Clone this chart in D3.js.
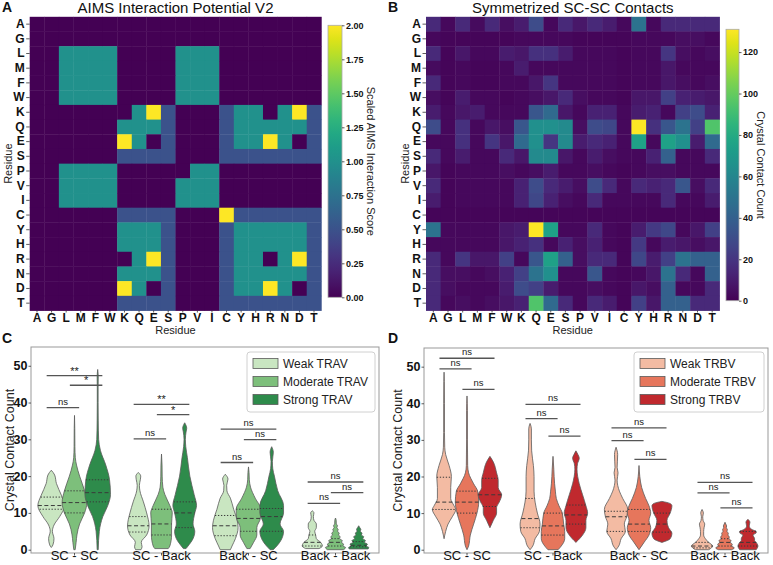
<!DOCTYPE html>
<html><head><meta charset="utf-8">
<script src="https://cdn.jsdelivr.net/npm/d3@7"></script>
<style>
body{margin:0;background:#fff}
svg{font-family:"Liberation Sans",Arial,Helvetica,sans-serif}
</style></head>
<body>
<script>
// ---------------- DATA ----------------
const residues = ["A","G","L","M","F","W","K","Q","E","S","P","V","I","C","Y","H","R","N","D","T"];

const aimsScores = [
 [0,0,0,0,0,0,0,0,0,0,0,0,0,0,0,0,0,0,0,0],
 [0,0,0,0,0,0,0,0,0,0,0,0,0,0,0,0,0,0,0,0],
 [0,0,1,1,1,1,0,0,0,0,1,1,1,0,0,0,0,0,0,0],
 [0,0,1,1,1,1,0,0,0,0,1,1,1,0,0,0,0,0,0,0],
 [0,0,1,1,1,1,0,0,0,0,1,1,1,0,0,0,0,0,0,0],
 [0,0,1,1,1,1,0,0,0,0,1,1,1,0,0,0,0,0,0,0],
 [0,0,0,0,0,0,0,1,2,.5,0,0,0,.5,1,1,0,1,2,.5],
 [0,0,0,0,0,0,1,1,1,.5,0,0,0,.5,1,1,1,1,1,.5],
 [0,0,0,0,0,0,2,1,0,.5,0,0,0,.5,1,1,2,1,0,.5],
 [0,0,0,0,0,0,.5,.5,.5,.5,0,0,0,.5,.5,.5,.5,.5,.5,.5],
 [0,0,1,1,1,1,0,0,0,0,0,1,1,0,0,0,0,0,0,0],
 [0,0,1,1,1,1,0,0,0,0,1,1,1,0,0,0,0,0,0,0],
 [0,0,1,1,1,1,0,0,0,0,1,1,1,0,0,0,0,0,0,0],
 [0,0,0,0,0,0,.5,.5,.5,.5,0,0,0,2,.5,.5,.5,.5,.5,.5],
 [0,0,0,0,0,0,1,1,1,.5,0,0,0,.5,1,1,1,1,1,.5],
 [0,0,0,0,0,0,1,1,1,.5,0,0,0,.5,1,1,1,1,1,.5],
 [0,0,0,0,0,0,0,1,2,.5,0,0,0,.5,1,1,0,1,2,.5],
 [0,0,0,0,0,0,1,1,1,.5,0,0,0,.5,1,1,1,1,1,.5],
 [0,0,0,0,0,0,2,1,0,.5,0,0,0,.5,1,1,2,1,0,.5],
 [0,0,0,0,0,0,.5,.5,.5,.5,0,0,0,.5,.5,.5,.5,.5,.5,.5]
];
const aimsTicks = [0,0.25,0.5,0.75,1,1.25,1.5,1.75,2];

const contactCounts = [
 [15,3,15,4,15,5,10,30,3,15,8,15,10,3,50,3,15,15,15,15],
 [3,2,2,2,2,2,3,3,3,3,2,2,2,2,3,3,3,5,5,3],
 [15,2,8,3,3,10,8,18,18,10,3,3,3,2,3,3,20,5,3,5],
 [4,2,3,2,2,3,10,3,3,3,3,3,3,2,3,3,8,3,3,3],
 [15,2,3,2,2,3,3,8,20,3,3,3,3,2,3,3,8,5,3,5],
 [5,2,10,3,3,2,3,5,8,15,5,3,3,2,8,8,25,12,10,8],
 [10,3,8,10,3,3,3,35,45,8,3,12,12,3,10,12,3,25,30,12],
 [30,3,18,3,8,5,35,65,65,62,5,30,28,3,131,18,35,50,25,95],
 [3,3,18,3,20,8,45,65,20,62,10,15,12,3,75,3,75,65,10,45],
 [15,3,10,3,3,15,8,62,62,8,3,10,5,3,3,12,40,3,3,15],
 [8,2,3,3,3,5,3,5,10,3,3,5,3,2,3,5,5,3,3,3],
 [15,2,3,3,3,3,12,30,15,10,5,30,15,3,15,12,15,35,5,15],
 [10,2,3,3,3,3,12,28,12,5,3,15,3,3,3,3,15,3,3,10],
 [2,2,2,2,2,2,2,2,2,2,2,2,2,2,2,2,2,2,2,2],
 [50,3,3,3,3,8,10,131,75,3,3,15,3,2,10,22,28,3,8,25],
 [3,3,3,3,3,8,12,18,3,12,5,12,3,2,22,3,10,8,5,8],
 [15,3,20,8,8,25,3,35,75,40,5,15,15,2,28,10,25,50,40,40],
 [15,5,5,3,5,12,25,50,65,3,3,35,3,2,3,8,50,15,3,40],
 [15,5,3,3,3,10,30,25,10,3,3,5,3,2,8,5,40,3,3,15],
 [15,3,5,3,5,8,12,95,45,15,3,15,10,2,25,8,40,40,15,15]
];
const contactMax = 131;
const contactTicks = [0,20,40,60,80,100,120];

const categories = ["SC - SC","SC - Back","Back - SC","Back - Back"];
const travLevels = ["Weak TRAV","Moderate TRAV","Strong TRAV"];
const trbvLevels = ["Weak TRBV","Moderate TRBV","Strong TRBV"];
const travColors = ["#c9e6c1","#7dbf7b","#2e8b4b"];
const trbvColors = ["#f3bba3","#e6765c","#c0292e"];
const countTicks = [0,10,20,30,40,50];

// violin profiles: [value, relative half-width]  ([category][level])
const travProfiles = [
 [
  [[0.6,0],[1.3,0.12],[3,0.2],[5,0.08],[6.7,0.2],[9,0.62],[12,1.0],[14.8,0.75],[18,0.38],[20.3,0.25],[21.6,0]],
  [[0,0.05],[2,0.12],[4,0.18],[7,0.38],[10,0.75],[12.8,0.92],[16,0.75],[20,0.38],[23,0.15],[25,0.06],[28,0.03],[33,0.02],[36.5,0]],
  [[0,0.04],[5,0.12],[9,0.38],[12,0.75],[15,0.95],[19,0.88],[23,0.6],[27,0.2],[30,0.07],[35,0.04],[40,0.03],[44,0.03],[47,0.04],[49,0]]
 ],
 [
  [[0,0.2],[0.8,0.28],[2,0.22],[4,0.62],[6.5,0.8],[10,0.62],[13,0.38],[16,0.12],[17.5,0.08],[19,0.15],[20,0.18],[21,0]],
  [[0.3,0.5],[1,0.62],[4,0.75],[7,0.75],[10,0.8],[12,0.62],[15,0.25],[17,0.1],[20,0.05],[23,0.04],[26,0]],
  [[0.3,0.1],[1,0.25],[3,0.62],[5,0.75],[7,0.62],[10,0.75],[12,0.88],[15,0.7],[20,0.38],[25,0.2],[28,0.08],[30,0.05],[32,0.1],[33,0.15],[34.5,0]]
 ],
 [
  [[0,0.38],[1,0.5],[3,0.75],[6,0.95],[8,0.88],[11,0.62],[14,0.38],[16,0.12],[17.5,0.1],[19.2,0.2],[20.5,0]],
  [[0.3,0.12],[2,0.38],[4,0.62],[6,0.62],[8.5,0.88],[11,0.92],[14,0.5],[17,0.15],[19,0.06],[21,0.04],[22.5,0]],
  [[0,0.12],[1,0.38],[3,0.75],[5,0.88],[7,0.62],[10,0.88],[12,0.88],[16,0.45],[20,0.2],[22,0.08],[24,0.05],[26.5,0.12],[28,0]]
 ],
 [
  [[0.3,0.5],[1,0.75],[2,0.62],[3,0.3],[4,0.25],[5,0.18],[6,0.3],[7,0.3],[8,0.12],[9,0.08],[10,0.12],[10.6,0]],
  [[0,0.6],[0.6,0.75],[1,0.55],[1.5,0.6],[2,0.45],[2.5,0.5],[3,0.3],[3.5,0.35],[4,0.22],[4.5,0.28],[5,0.15],[5.5,0.2],[6,0.1],[6.5,0.15],[7,0.06],[8,0.05],[8.6,0]],
  [[0.2,0.7],[0.6,0.75],[1,0.55],[1.5,0.65],[2,0.42],[2.5,0.5],[3,0.3],[3.5,0.38],[4,0.2],[4.5,0.25],[5,0.12],[5.5,0.16],[6,0.08],[6.5,0]]
 ]
];
const travQuartiles = [
 [[11,12,14.3],[10,12.8,16],[13,15.5,19]],
 [[4.8,6.5,9],[4,7,11],[6,10,13]],
 [[3.8,6.5,9.3],[5,8.5,11],[5,9,11.2]],
 [[1,2,4],[1,2,3],[0.8,1.2,2.2]]
];
const trbvProfiles = [
 [
  [[3,0],[5,0.12],[7,0.3],[9,0.62],[11,0.88],[12,0.75],[14,0.5],[17,0.5],[20,0.55],[23,0.38],[26,0.12],[28,0.05],[32,0.03],[40,0.03],[46,0.02],[48.5,0]],
  [[0,0],[1,0.12],[4,0.25],[7,0.5],[10,0.75],[13,0.88],[16,0.8],[18,0.5],[21,0.12],[23,0.05],[30,0.03],[38,0.03],[42,0]],
  [[6,0],[8,0.25],[10,0.5],[11.5,0.5],[13,0.7],[15,0.88],[17,0.62],[19,0.62],[21,0.5],[24,0.25],[25.5,0]]
 ],
 [
  [[0,0],[1,0.2],[3,0.38],[5,0.7],[7,0.75],[10,0.55],[13,0.38],[16,0.3],[20,0.3],[23,0.25],[27,0.12],[30,0.1],[33,0.1],[34.5,0]],
  [[0,0.38],[1,0.62],[3,0.88],[5,0.88],[7,0.8],[10,0.7],[12,0.45],[14,0.25],[16,0.18],[18,0.12],[22,0.06],[25.5,0]],
  [[2,0],[4,0.5],[6,0.75],[8,0.75],[10,0.88],[12,0.75],[15,0.5],[18,0.25],[22,0.08],[23.5,0.12],[25,0.25],[26,0.15],[27,0]]
 ],
 [
  [[0,0],[1,0.2],[3,0.38],[5,0.7],[7,0.62],[9,0.8],[11,0.88],[14,0.5],[16,0.25],[19,0.08],[21,0.15],[22.5,0.08],[24,0.1],[26,0.12],[28,0]],
  [[0,0],[2,0.38],[4,0.75],[6,0.88],[8,0.75],[10,0.88],[12,0.75],[14,0.5],[17,0.2],[20,0.06],[23,0]],
  [[2,0],[3,0.62],[4.5,0.75],[6,0.5],[8,0.38],[10,0.62],[12,0.75],[12.6,0.62],[13.2,0]]
 ],
 [
  [[0,0.5],[1,0.8],[2,0.5],[3,0.25],[4,0.12],[5,0.12],[6,0.15],[7,0.2],[8,0.08],[9,0.05],[10,0.1],[11,0]],
  [[0,0.5],[0.5,0.7],[1,0.5],[1.5,0.55],[2,0.4],[2.5,0.45],[3,0.3],[3.5,0.32],[4,0.22],[4.5,0.25],[5,0.15],[5.5,0.18],[6,0.1],[6.5,0.12],[7,0.06],[7.5,0]],
  [[0,0.62],[1,0.75],[2,0.62],[2.5,0.5],[3,0.5],[4,0.38],[4.6,0.62],[5,0.62],[5.5,0.3],[6.5,0.1],[7.5,0.15],[8.3,0]]
 ]
];
const trbvQuartiles = [
 [[11,13,19.8],[10,13,16],[11.8,15,19.5]],
 [[6,8.5,14],[4,6.5,10],[7,9.5,12.2]],
 [[5,9,10.5],[5,7,11],[4.8,7,10]],
 [[0.5,1,2],[1,2,3],[1,2,5]]
];
// brackets: [category, level A, level B, value, label]
const travBrackets = [
 [0,0,2,47.3,"**"],[0,1,2,44.7,"*"],[0,0,1,38.6,"ns"],
 [1,0,2,39.5,"**"],[1,1,2,36.7,"*"],[1,0,1,30.1,"ns"],
 [2,0,2,32.8,"ns"],[2,1,2,29.9,"ns"],[2,0,1,23.7,"ns"],
 [3,0,2,18.4,"ns"],[3,1,2,15.5,"ns"],[3,0,1,12.6,"ns"]
];
const trbvBrackets = [
 [0,0,2,52.3,"ns"],[0,0,1,49.4,"ns"],[0,1,2,43.8,"ns"],
 [1,0,2,39.7,"ns"],[1,0,1,35.8,"ns"],[1,1,2,31.0,"ns"],
 [2,0,2,33.3,"ns"],[2,0,1,29.8,"ns"],[2,1,2,24.7,"ns"],
 [3,0,2,18.4,"ns"],[3,0,1,15.5,"ns"],[3,1,2,11.4,"ns"]
];

// ---------------- DRAW ----------------
const W = 773, H = 565;
const svg = d3.select("body").append("svg").attr("width", W).attr("height", H);
const defs = svg.append("defs");
const FONT = '"Liberation Sans",Arial,sans-serif';

function styleAxis(g, fontSize, bold) {
  g.selectAll("text").attr("font-size", fontSize).attr("font-weight", bold ? "bold" : "normal")
    .attr("fill", "#111").attr("font-family", FONT);
  g.selectAll("line").attr("stroke", "#333").attr("stroke-width", 0.8);
}

function heatmap(opt) {
  const x = d3.scaleBand().domain(residues).range([opt.x0, opt.x1]);
  const y = d3.scaleBand().domain(residues).range([opt.y0, opt.y1]);
  const g = svg.append("g");
  opt.matrix.forEach((row, i) => {
    row.forEach((v, j) => {
      g.append("rect")
        .attr("x", x(residues[j])).attr("y", y(residues[i]))
        .attr("width", x.bandwidth() + 0.4).attr("height", y.bandwidth() + 0.4)
        .attr("fill", d3.interpolateViridis(opt.color(v)));
    });
  });
  const ax = svg.append("g").attr("transform", `translate(${opt.x0},0)`)
    .call(d3.axisLeft(y).tickSize(3.5).tickPadding(1.5));
  ax.select(".domain").remove();
  styleAxis(ax, 12, true);
  const bx = svg.append("g").attr("transform", `translate(0,${opt.y1})`)
    .call(d3.axisBottom(x).tickSize(2).tickPadding(1));
  bx.select(".domain").remove();
  styleAxis(bx, 12, true);
  svg.append("text").attr("x", (opt.x0 + opt.x1) / 2).attr("y", 334).attr("text-anchor", "middle")
    .attr("font-size", 11).attr("fill", "#222").text("Residue");
  svg.append("text").attr("transform", `translate(${opt.ylabX},${(opt.y0 + opt.y1) / 2}) rotate(-90)`)
    .attr("text-anchor", "middle").attr("font-size", 11).attr("fill", "#222").text("Residue");
  svg.append("text").attr("x", (opt.x0 + opt.x1) / 2).attr("y", 12.5).attr("text-anchor", "middle")
    .attr("font-size", 15).attr("fill", "#111").text(opt.title);
  // colorbar
  const id = "grad" + opt.key;
  const grad = defs.append("linearGradient").attr("id", id).attr("x1", 0).attr("y1", 1).attr("x2", 0).attr("y2", 0);
  d3.range(0, 1.0001, 0.05).forEach(t => grad.append("stop").attr("offset", t).attr("stop-color", d3.interpolateViridis(t)));
  const cb = opt.cbar;
  svg.append("rect").attr("x", cb.x).attr("y", cb.y0).attr("width", cb.w).attr("height", cb.y1 - cb.y0)
    .attr("fill", `url(#${id})`).attr("stroke", "#aaa").attr("stroke-width", 0.8);
  const cs = d3.scaleLinear().domain(opt.cdomain).range([cb.y1, cb.y0]);
  const cax = svg.append("g").attr("transform", `translate(${cb.x + cb.w},0)`)
    .call(d3.axisRight(cs).tickValues(opt.cticks).tickFormat(opt.cfmt).tickSize(2.5).tickPadding(1.5));
  cax.select(".domain").remove();
  styleAxis(cax, 9, true);
  svg.append("text").attr("transform", `translate(${cb.labX},${(cb.y0 + cb.y1) / 2}) rotate(90)`)
    .attr("text-anchor", "middle").attr("font-size", 11).attr("fill", "#222").text(opt.clabel);
}

heatmap({
  key: "A", matrix: aimsScores, x0: 29.7, x1: 321.3, y0: 16.8, y1: 310.5,
  color: v => v / 2, title: "AIMS Interaction Potential V2", ylabX: 12,
  cbar: {x: 328, w: 14, y0: 25.3, y1: 297.3, labX: 367},
  cdomain: [0, 2], cticks: aimsTicks, cfmt: d3.format(".2f"), clabel: "Scaled AIMS Interaction Score"
});
heatmap({
  key: "B", matrix: contactCounts, x0: 426, x1: 719.5, y0: 16.8, y1: 310.5,
  color: v => Math.min(1, v / contactMax), title: "Symmetrized SC-SC Contacts", ylabX: 409,
  cbar: {x: 726, w: 13, y0: 29.3, y1: 300.7, labX: 757},
  cdomain: [0, contactMax], cticks: contactTicks, cfmt: d3.format("d"), clabel: "Crystal Contact Count"
});

function relAt(profile, v) {
  if (v <= profile[0][0]) return profile[0][1];
  for (let i = 1; i < profile.length; i++) {
    if (v <= profile[i][0]) {
      const [a, ra] = profile[i - 1], [b, rb] = profile[i];
      return ra + (rb - ra) * (v - a) / (b - a);
    }
  }
  return 0;
}

function violinPanel(opt) {
  const x = d3.scaleBand().domain(categories).range([opt.x0, opt.x1]);
  const y = d3.scaleLinear().domain([-0.9, 55.1]).range([opt.y1, opt.y0]);
  const inner = d3.scaleBand().domain(opt.levels).range([0, x.bandwidth() * 0.8]);
  const hw = d3.scaleLinear().domain([0, 1]).range([0, inner.bandwidth() * 0.58]);
  const cx = (ci, li) => x(categories[ci]) + x.bandwidth() * 0.1 + inner(opt.levels[li]) + inner.bandwidth() / 2;
  const g = svg.append("g");
  const area = d3.area().curve(d3.curveMonotoneY);
  categories.forEach((c, ci) => {
    opt.levels.forEach((lv, li) => {
      const prof = opt.profiles[ci][li];
      const c0 = cx(ci, li);
      area.y(d => y(d[0])).x0(d => c0 - hw(d[1])).x1(d => c0 + hw(d[1]));
      g.append("path").attr("d", area(prof)).attr("fill", opt.colors[li])
        .attr("stroke", "#5a5a5a").attr("stroke-width", 0.8);
      opt.quartiles[ci][li].forEach((q, qi) => {
        const r = hw(relAt(prof, q));
        g.append("line").attr("x1", c0 - r).attr("x2", c0 + r).attr("y1", y(q)).attr("y2", y(q))
          .attr("stroke", "#3a3a3a").attr("stroke-width", 1)
          .attr("stroke-dasharray", qi === 1 ? "4,2.5" : "1.3,1.7");
      });
    });
  });
  // brackets
  const sp = inner.bandwidth();
  opt.brackets.forEach(([ci, a, b, v, lab]) => {
    const xa = cx(ci, a) - 0.2 * sp, xb = cx(ci, b) + 0.2 * sp;
    g.append("line").attr("x1", xa).attr("x2", xb).attr("y1", y(v)).attr("y2", y(v))
      .attr("stroke", "#555").attr("stroke-width", 1.3);
    g.append("text").attr("x", (xa + xb) / 2).attr("y", y(v) - (lab === "ns" ? 3 : 1)).attr("text-anchor", "middle")
      .attr("font-size", lab === "ns" ? 9.5 : 11).attr("fill", "#222").text(lab);
  });
  // frame
  svg.append("rect").attr("x", opt.x0).attr("y", opt.y0).attr("width", opt.x1 - opt.x0).attr("height", opt.y1 - opt.y0)
    .attr("fill", "none").attr("stroke", "#999").attr("stroke-width", 1);
  const ya = svg.append("g").attr("transform", `translate(${opt.x0},0)`)
    .call(d3.axisLeft(y).tickValues(countTicks).tickSize(2.5).tickPadding(1));
  ya.select(".domain").remove();
  styleAxis(ya, 12.5, true);
  const xa = svg.append("g").attr("transform", `translate(0,${opt.y1})`)
    .call(d3.axisBottom(x).tickSize(2.5).tickPadding(0));
  xa.select(".domain").remove();
  styleAxis(xa, 13, false);
  xa.selectAll("text").attr("y", 6.5).attr("dy", "0");
  svg.append("text").attr("transform", `translate(${opt.ylabX},${(opt.y0 + opt.y1) / 2}) rotate(-90)`)
    .attr("text-anchor", "middle").attr("font-size", 12.5).attr("fill", "#222").text("Crystal Contact Count");
  // legend
  const L = opt.legend;
  svg.append("rect").attr("x", L.x).attr("y", L.y).attr("width", L.w).attr("height", 60).attr("rx", 3)
    .attr("fill", "#fff").attr("fill-opacity", 0.85).attr("stroke", "#d0d0d0");
  opt.levels.forEach((lv, li) => {
    const yy = L.y + 11.5 + li * 18;
    svg.append("rect").attr("x", L.x + 6).attr("y", yy - 5).attr("width", 25).attr("height", 10)
      .attr("fill", opt.colors[li]).attr("stroke", "#5a5a5a").attr("stroke-width", 0.8);
    svg.append("text").attr("x", L.x + 36).attr("y", yy + 4.5).attr("font-size", 12).attr("fill", "#222").text(lv);
  });
}

violinPanel({
  x0: 31, x1: 379, y0: 347, y1: 553, levels: travLevels, colors: travColors,
  profiles: travProfiles, quartiles: travQuartiles, brackets: travBrackets, ylabX: 14,
  legend: {x: 247, y: 352, w: 128}
});
violinPanel({
  x0: 424, x1: 768, y0: 348, y1: 553, levels: trbvLevels, colors: trbvColors,
  profiles: trbvProfiles, quartiles: trbvQuartiles, brackets: trbvBrackets, ylabX: 402,
  legend: {x: 634, y: 352, w: 130}
});

// panel letters
[["A", 2, 12], ["B", 388, 12], ["C", 2, 343], ["D", 388, 343]].forEach(([t, xx, yy]) => {
  svg.append("text").attr("x", xx).attr("y", yy).attr("font-size", 14).attr("font-weight", "bold").attr("fill", "#111").text(t);
});
</script>
</body></html>
